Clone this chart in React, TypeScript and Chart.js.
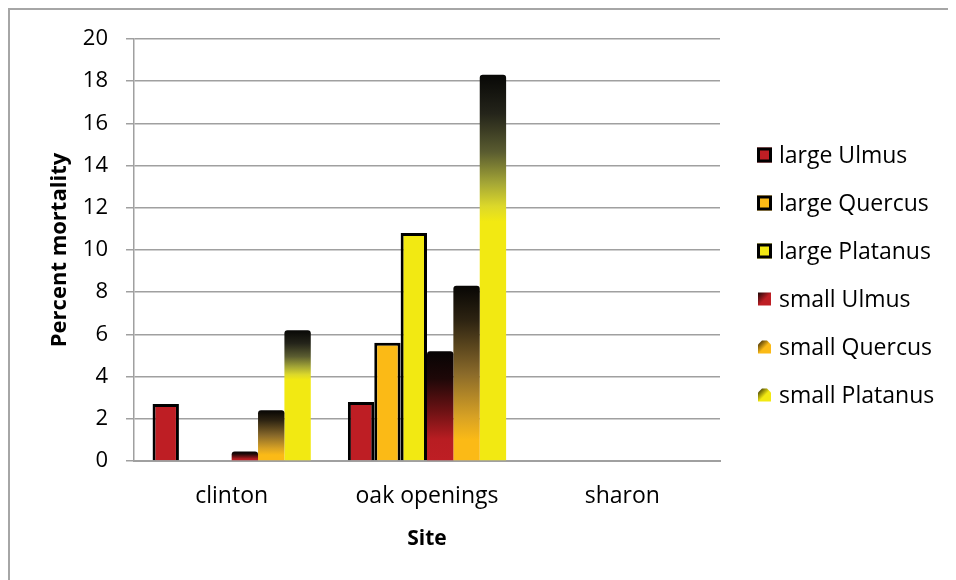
import { useEffect, useRef } from "react";
import { Chart, registerables } from "chart.js";

Chart.register(...registerables);

// Sites along the x axis
const sites = ["clinton", "oak openings", "sharon"];

// Percent mortality per site
const largeUlmus = [2.7, 2.8, 0];
const largeQuercus = [0, 5.6, 0];
const largePlatanus = [0, 10.8, 0];
const smallUlmus = [0.45, 5.2, 0];
const smallQuercus = [2.4, 8.3, 0];
const smallPlatanus = [6.2, 18.3, 0];

// Value axis range
const yMin = 0;
const yMax = 20;
const yStep = 2;

const FONT = '"Open Sans", "Noto Sans", sans-serif';
const GRID = "#a0a0a0";

const RED = "#be1e24";
const ORANGE = "#fbba16";
const YELLOW = "#f2e912";

type Stop = [number, string];

// Vertical shading for the "small" bars: dark at the top, full colour lower down
const ulmusShade: Stop[] = [
  [0, "#070404"],
  [0.25, "#1e0808"],
  [0.55, "#6e1214"],
  [0.8, "#b81d22"],
  [1, RED],
];
const quercusShade: Stop[] = [
  [0, "#070604"],
  [0.2, "#2e2412"],
  [0.5, "#8a6a2a"],
  [0.75, "#d8a224"],
  [0.88, ORANGE],
  [1, ORANGE],
];
const platanusShade: Stop[] = [
  [0, "#080806"],
  [0.1, "#24241a"],
  [0.2, "#5a5c30"],
  [0.28, "#a4a636"],
  [0.34, "#dcd82a"],
  [0.38, YELLOW],
  [1, YELLOW],
];

function barShade(stops: Stop[], fallback: string) {
  return (ctx: any) => {
    if (ctx.type !== "data") return fallback;
    const chart = ctx.chart;
    const y = chart.scales?.y;
    if (!y) return fallback;
    const v = ctx.parsed?.y ?? ctx.raw;
    const top = y.getPixelForValue(v);
    const bottom = y.getPixelForValue(0);
    if (!isFinite(top) || !isFinite(bottom) || bottom - top < 1) return fallback;
    const g = chart.ctx.createLinearGradient(0, top, 0, bottom);
    stops.forEach(([o, c]) => g.addColorStop(o, c));
    return g;
  };
}

// Legend drawn to the right of the plot area
const siteLegend = {
  id: "siteLegend",
  afterDraw(chart: any) {
    const { ctx, chartArea } = chart;
    const x0 = chartArea.right + 37;
    ctx.save();
    ctx.font = `23px ${FONT}`;
    ctx.textBaseline = "middle";
    ctx.textAlign = "left";
    chart.data.datasets.forEach((ds: any, i: number) => {
      const cy = chartArea.top + 116 + i * 48;
      const icon = ds.legendIcon;
      if (icon === "box") {
        ctx.fillStyle = ds.backgroundColor;
        ctx.fillRect(x0, cy - 7.5, 15, 15);
        ctx.lineWidth = 3;
        ctx.strokeStyle = "#000";
        ctx.strokeRect(x0 + 1.5, cy - 6, 12, 12);
      } else {
        const g = ctx.createLinearGradient(x0, cy - 7, x0 + 14, cy + 7);
        g.addColorStop(0, "#080404");
        g.addColorStop(0.55, ds.legendColor);
        g.addColorStop(1, ds.legendColor);
        ctx.fillStyle = g;
        ctx.beginPath();
        if (icon === "square") {
          ctx.rect(x0 + 1, cy - 6.5, 13, 13);
        } else {
          const c = 4;
          const l = x0 + 1, r = x0 + 14, t = cy - 6.5, b = cy + 6.5;
          ctx.moveTo(l + c, t);
          ctx.lineTo(r - c, t);
          ctx.lineTo(r, t + c);
          ctx.lineTo(r, b);
          ctx.lineTo(l, b);
          ctx.lineTo(l, t + c);
          ctx.closePath();
        }
        ctx.fill();
      }
      ctx.fillStyle = "#000";
      ctx.fillText(ds.label, x0 + 22, cy + 1);
    });
    ctx.restore();
  },
};

export default function App() {
  const canvasRef = useRef<HTMLCanvasElement>(null);

  useEffect(() => {
    document.documentElement.style.overflow = "hidden";
    const canvas = canvasRef.current;
    if (!canvas) return;

    const largeBar = { borderColor: "#000", borderWidth: 3, legendIcon: "box" };
    const smallBar = { borderWidth: 0, borderRadius: { topLeft: 3, topRight: 3 } };

    const chart = new Chart(canvas, {
      type: "bar",
      data: {
        labels: sites,
        datasets: [
          { label: "large Ulmus", data: largeUlmus, backgroundColor: RED, ...largeBar },
          { label: "large Quercus", data: largeQuercus, backgroundColor: ORANGE, ...largeBar },
          { label: "large Platanus", data: largePlatanus, backgroundColor: YELLOW, ...largeBar },
          {
            label: "small Ulmus",
            data: smallUlmus,
            backgroundColor: barShade(ulmusShade, RED),
            legendIcon: "square",
            legendColor: RED,
            ...smallBar,
          },
          {
            label: "small Quercus",
            data: smallQuercus,
            backgroundColor: barShade(quercusShade, ORANGE),
            legendIcon: "octagon",
            legendColor: ORANGE,
            ...smallBar,
          },
          {
            label: "small Platanus",
            data: smallPlatanus,
            backgroundColor: barShade(platanusShade, YELLOW),
            legendIcon: "octagon",
            legendColor: YELLOW,
            ...smallBar,
          },
        ] as any,
      },
      options: {
        animation: false,
        responsive: false,
        devicePixelRatio: 1,
        layout: { padding: { left: 33, top: 20, right: 236, bottom: 20 } },
        datasets: {
          bar: { categoryPercentage: 0.81, barPercentage: 1 },
        },
        plugins: {
          legend: { display: false },
          tooltip: { enabled: false },
        },
        scales: {
          x: {
            grid: { display: false, drawTicks: false },
            border: { display: true, color: GRID, width: 2 },
            ticks: { padding: 22, color: "#000", font: { family: FONT, size: 23 } },
            title: {
              display: true,
              text: "Site",
              color: "#000",
              font: { family: FONT, size: 21, weight: "bold" },
              padding: { top: 15, bottom: 8 },
            },
            afterFit: (scale: any) => {
              scale.height = 99;
            },
          },
          y: {
            min: yMin,
            max: yMax,
            ticks: {
              stepSize: yStep,
              padding: 18,
              color: "#000",
              font: { family: FONT, size: 22, lineHeight: 1 },
            },
            grid: { color: GRID, lineWidth: 1.5, tickLength: 8, drawTicks: true },
            border: { display: true, color: GRID, width: 1.5 },
            title: {
              display: true,
              text: "Percent mortality",
              color: "#000",
              font: { family: FONT, size: 22, weight: "bold" },
              padding: { top: 4, bottom: 10 },
            },
            afterFit: (scale: any) => {
              scale.width = 91;
            },
          },
        },
      },
      plugins: [siteLegend],
    });

    return () => chart.destroy();
  }, []);

  return (
    <div
      style={{
        width: 948,
        height: 572,
        boxSizing: "border-box",
        borderLeft: "2px solid #a6a6a6",
        borderTop: "2px solid #a6a6a6",
        background: "#fff",
      }}
    >
      <canvas ref={canvasRef} width={946} height={570} style={{ display: "block" }} />
    </div>
  );
}
